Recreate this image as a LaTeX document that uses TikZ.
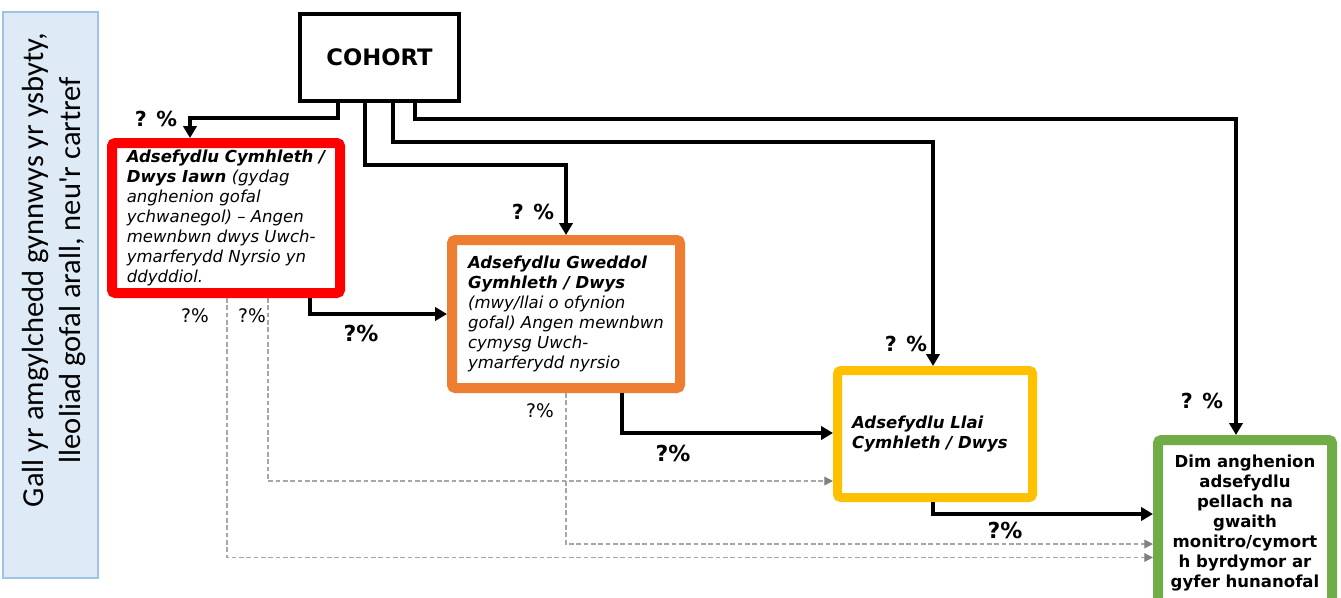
\documentclass[tikz,border=0pt]{standalone}
\usepackage{fontspec}
\setmainfont{DejaVu Sans}
\newfontfamily\calfont{Carlito}
\usetikzlibrary{arrows.meta,calc}
\definecolor{cred}{HTML}{FF0000}
\definecolor{corange}{HTML}{ED7D31}
\definecolor{cyellow}{HTML}{FFC000}
\definecolor{cgreen}{HTML}{70AD47}
\definecolor{cbluefill}{HTML}{DEEBF7}
\definecolor{cblueline}{HTML}{9DC3E6}
\definecolor{dline}{HTML}{A6A6A6}
\definecolor{dtip}{HTML}{808080}
\begin{document}
\begin{tikzpicture}[x=0.75pt,y=-0.75pt,
  box/.style={draw,rounded corners=2.5pt,line width=7.5pt,fill=white,inner sep=0pt,
    align=left,font=\fontsize{12.4}{15}\selectfont\itshape},
  conn/.style={line width=3pt,-{Triangle[width=10pt,length=9pt]}},
  dconn/.style={draw=dline,line width=0.9pt,dash pattern=on 3.5pt off 2pt,
    -{Triangle[width=6.5pt,length=6.5pt,color=dtip,fill=dtip]}},
  lbltop/.style={font=\fontsize{15.5}{18}\selectfont\bfseries,inner sep=0pt},
  lblmid/.style={font=\fontsize{16.5}{19}\selectfont\bfseries,inner sep=0pt},
  lblgray/.style={font=\fontsize{14}{16}\selectfont,inner sep=0pt}
]
\useasboundingbox (0,0) rectangle (1341,597);
\fill[white] (0,0) rectangle (1341,597);

% side box
\node[draw=cblueline,fill=cbluefill,line width=0.8pt,minimum width=71.25pt,minimum height=424.5pt,inner sep=0pt] (side) at (50.5,295) {};
\node[rotate=90,align=center,font=\calfont\fontsize{22.9}{27.5}\selectfont,inner sep=0pt] (sidetext) at (54,270)
  {Gall yr amgylchedd gynnwys yr ysbyty,\\ lleoliad gofal arall, neu'r cartref};

% cohort
\node[draw,line width=3pt,fill=white,minimum width=119.25pt,minimum height=65.25pt,inner sep=0pt,
  font=\fontsize{17}{20}\selectfont\bfseries] (cohort) at (379.5,57.5) {COHORT};

% boxes
\node[box,draw=cred,minimum width=171pt,minimum height=112.5pt] (red) at (226,218)
  {\textbf{Adsefydlu Cymhleth /}\\ \textbf{Dwys Iawn} (gydag\\ anghenion gofal\\ ychwanegol) – Angen\\ mewnbwn dwys Uwch-\\ ymarferydd Nyrsio yn\\ ddyddiol.};
\node[box,draw=corange,minimum width=171pt,minimum height=111pt] (orange) at (566,314)
  {\textbf{Adsefydlu Gweddol}\\ \textbf{Gymhleth / Dwys}\\ (mwy/llai o ofynion\\ gofal) Angen mewnbwn\\ cymysg Uwch-\\ ymarferydd nyrsio};
\node[box,draw=cyellow,line width=6.75pt,minimum width=146.25pt,minimum height=95.25pt] (yellow) at (935,434) {};
\node[inner sep=0pt,align=left,font=\fontsize{12.4}{15}\selectfont\bfseries\itshape] (yellowtext) at (930,434)
  {Adsefydlu Llai\\ Cymhleth / Dwys};
\node[box,draw=cgreen,align=center,font=\fontsize{12.4}{15}\selectfont\bfseries,minimum width=130.5pt,minimum height=123.75pt] (green) at (1245,522.5)
  {Dim anghenion\\ adsefydlu\\ pellach na\\ gwaith\\ monitro/cymort\\ h byrdymor ar\\ gyfer hunanofal};

% cohort connectors
\draw[conn] ($(cohort.south)+(-41.5,0)$) -- ++(0,15) -| ($(red.north)+(-36,0)$);
\draw[conn] ($(cohort.south)+(-14.5,0)$) -- ++(0,62) -| (orange.north);
\draw[conn] ($(cohort.south)+(13.5,0)$) -- ++(0,39) -| ($(yellow.north)+(-2,0)$);
\draw[conn] ($(cohort.south)+(35.5,0)$) -- ++(0,16) -| ($(green.north)+(-9,0)$);

% box to box connectors
\draw[conn] ($(red.south)+(84,0)$) |- (orange.west);
\draw[conn] ($(orange.south)+(56,0)$) |- ($(yellow.west)+(0,-1)$);
\draw[conn] ($(yellow.south)+(-2,0)$) |- ($(green.west)+(0,-8.5)$);

% dashed connectors
\draw[dconn] ($(red.south)+(1,0)$) |- ($(green.west)+(0,35)$);
\draw[dconn] ($(red.south)+(42,0)$) |- ($(yellow.west)+(0,47)$);
\draw[dconn] (orange.south) |- ($(green.west)+(0,21.5)$);

% labels
\node[lbltop] (p1) at (156,119) {? \%};
\node[lbltop] (p2) at (533,212) {? \%};
\node[lbltop] (p3) at (906,344) {? \%};
\node[lbltop] (p4) at (1202,401) {? \%};
\node[lblmid] (q1) at (361,333) {?\%};
\node[lblmid] (q2) at (673,453) {?\%};
\node[lblmid] (q3) at (1005,530) {?\%};
\node[lblgray] (g1) at (195,316) {?\%};
\node[lblgray] (g2) at (252,316) {?\%};
\node[lblgray] (g3) at (540,411) {?\%};
\end{tikzpicture}
\end{document}
